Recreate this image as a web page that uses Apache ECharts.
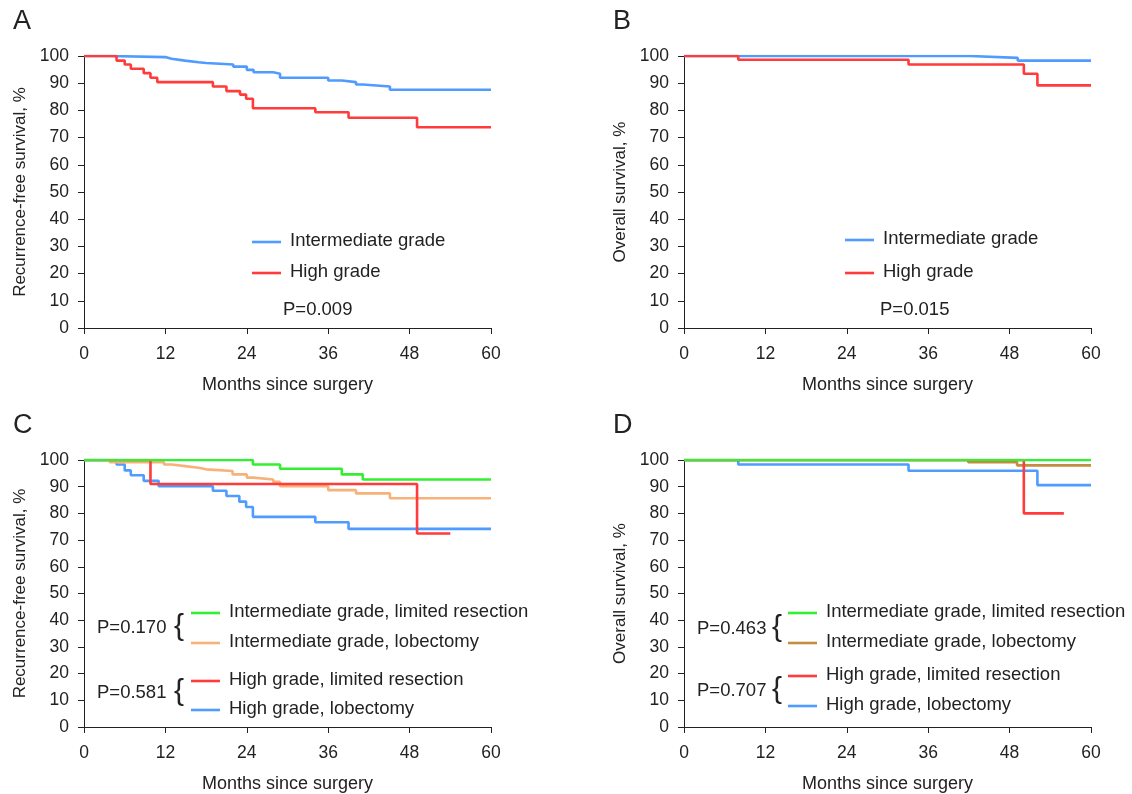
<!DOCTYPE html>
<html>
<head>
<meta charset="utf-8">
<script src="https://cdn.jsdelivr.net/npm/echarts@6/dist/echarts.min.js"></script>
<style>
  html, body { margin: 0; padding: 0; background: #fff; }
  #chart { width: 1132px; height: 794px; }
</style>
</head>
<body>
<div id="chart"></div>
<script>
// ---- data (months, survival %) ----
const xTicks = [0, 12, 24, 36, 48, 60]
const yTicks = [0, 10, 20, 30, 40, 50, 60, 70, 80, 90, 100]

// A: recurrence-free survival
const aInterTime = [0, 3.8, 12, 12.9, 14.9, 16.9, 18, 22, 24, 25, 27.9, 28.9, 36, 38, 40.1, 41.1, 45.1, 60]
const aInterSurv = [100, 99.6, 99.0, 98.3, 97.7, 97.4, 96.9, 96.1, 94.9, 94.0, 93.5, 92.0, 91.0, 90.4, 89.5, 88.8, 87.6, 87.6]
const aHighTime = [0, 4.8, 6.0, 6.9, 8.8, 9.8, 10.8, 19.0, 21.0, 23.0, 23.9, 24.9, 34.1, 39.0, 49.1, 60]
const aHighSurv = [100, 98.3, 96.9, 95.3, 93.7, 92.0, 90.4, 88.8, 87.1, 85.8, 84.3, 80.8, 79.3, 77.3, 73.8, 73.8]

// B: overall survival
const bInterTime = [0, 42.2, 49.2, 60]
const bInterSurv = [100, 99.3, 98.3, 98.3]
const bHighTime = [0, 8.0, 33.1, 50.1, 52.1, 60]
const bHighSurv = [100, 98.6, 96.9, 93.5, 89.2, 89.2]

// C: recurrence-free survival by grade and resection
const cInterLimTime = [0, 24.9, 28.9, 38.0, 41.1, 60]
const cInterLimSurv = [100, 98.3, 96.7, 94.6, 92.7, 92.7]
const cInterLobTime = [0, 3.8, 11.8, 12.9, 14.9, 16.9, 18, 21.9, 24, 25, 27.9, 28.9, 36, 40.1, 45.1, 60]
const cInterLobSurv = [100, 99.2, 98.3, 97.7, 97.1, 96.5, 95.9, 94.6, 93.4, 92.7, 91.8, 90.2, 88.7, 87.5, 85.7, 85.7]
const cHighLimTime = [0, 9.8, 49.1, 54]
const cHighLimSurv = [100, 91.0, 72.5, 72.5]
const cHighLobTime = [0, 4.8, 6, 6.9, 8.8, 11, 19, 21, 22.9, 23.9, 24.9, 34.1, 39, 60]
const cHighLobSurv = [100, 98.3, 96.1, 94.3, 92.2, 90.2, 88.5, 86.5, 84.4, 82.4, 78.7, 76.7, 74.2, 74.2]

// D: overall survival by grade and resection
const dInterLimTime = [0, 60]
const dInterLimSurv = [100, 100]
const dInterLobTime = [0, 41.9, 49.1, 60]
const dInterLobSurv = [100, 99.2, 98.0, 98.0]
const dHighLimTime = [0, 50.1, 56]
const dHighLimSurv = [100, 80.0, 80.0]
const dHighLobTime = [0, 8, 33.1, 52.1, 60]
const dHighLobSurv = [100, 98.3, 96.0, 90.6, 90.6]

const font = "'Liberation Sans', Arial, Helvetica, sans-serif"
const txt = '#222'
const C_BLUE = '#4f9bff'
const C_RED = '#ff3b3b'
const C_GREEN = '#33ee33'
const C_ORANGE = '#f6b27a'
const C_BROWN = '#c58c44'

const grids = [
  { left: 84, top: 56, width: 407, height: 272 },
  { left: 684, top: 56, width: 407, height: 272 },
  { left: 84, top: 460, width: 407, height: 271 },
  { left: 684, top: 460, width: 407, height: 271 },
]
const yNames = ['Recurrence-free survival, %', 'Overall survival, %', 'Recurrence-free survival, %', 'Overall survival, %']

const xAxes = grids.map((g, i) => ({
  gridIndex: i, type: 'value', min: 0, max: 60, interval: 12,
  name: 'Months since surgery', nameLocation: 'middle', nameGap: 48,
  nameTextStyle: { fontSize: 18, color: txt, fontFamily: font },
  axisLine: { lineStyle: { color: '#222', width: 1 } },
  axisTick: { length: 6, lineStyle: { color: '#222' } },
  axisLabel: { fontSize: 17.5, color: txt, fontFamily: font, margin: 17, formatter: v => xTicks.includes(v) ? v : '' },
  splitLine: { show: false },
}))
const yAxes = grids.map((g, i) => ({
  gridIndex: i, type: 'value', min: 0, max: 100, interval: 10,
  name: yNames[i], nameLocation: 'middle', nameGap: 55,
  nameTextStyle: { fontSize: 17, color: txt, fontFamily: font },
  axisLine: { show: true, lineStyle: { color: '#222', width: 1 } },
  axisTick: { show: true, length: 6, lineStyle: { color: '#222' } },
  axisLabel: { fontSize: 17.5, color: txt, fontFamily: font, margin: 15, formatter: v => yTicks.includes(v) ? v : '' },
  splitLine: { show: false },
}))

function km(name, times, surv, color, idx) {
  return {
    name: name, type: 'line', step: 'end', xAxisIndex: idx, yAxisIndex: idx,
    data: times.map((t, i) => [t, surv[i]]),
    symbol: 'none', lineStyle: { color: color, width: 2.6 }, itemStyle: { color: color },
    silent: true, animation: false,
  }
}

const series = [
  km('Intermediate grade', aInterTime, aInterSurv, C_BLUE, 0),
  km('High grade', aHighTime, aHighSurv, C_RED, 0),
  km('Intermediate grade', bInterTime, bInterSurv, C_BLUE, 1),
  km('High grade', bHighTime, bHighSurv, C_RED, 1),
  km('High grade, lobectomy', cHighLobTime, cHighLobSurv, C_BLUE, 2),
  km('Intermediate grade, lobectomy', cInterLobTime, cInterLobSurv, C_ORANGE, 2),
  km('High grade, limited resection', cHighLimTime, cHighLimSurv, C_RED, 2),
  km('Intermediate grade, limited resection', cInterLimTime, cInterLimSurv, C_GREEN, 2),
  km('High grade, lobectomy', dHighLobTime, dHighLobSurv, C_BLUE, 3),
  km('Intermediate grade, lobectomy', dInterLobTime, dInterLobSurv, C_BROWN, 3),
  km('High grade, limited resection', dHighLimTime, dHighLimSurv, C_RED, 3),
  km('Intermediate grade, limited resection', dInterLimTime, dInterLimSurv, C_GREEN, 3),
]

// ---- legends, p-values, panel letters ----
const graphic = []
const LEG = 18.5
function label(x, y, text, size) {
  graphic.push({ type: 'text', left: x, top: y - size * 0.58, style: { text: text, fontSize: size, fill: txt, fontFamily: font } })
}
function legLine(x, y, color, text) {
  graphic.push({ type: 'line', shape: { x1: x, y1: y, x2: x + 29, y2: y }, style: { stroke: color, lineWidth: 2.6 } })
  label(x + 38, y, text, LEG)
}
function brace(x, y) {
  graphic.push({ type: 'text', left: x, top: y - 17, style: { text: '{', fontSize: 30, fill: txt, fontFamily: font } })
}

label(13, 24, 'A', 27); label(613, 24, 'B', 27); label(13, 428, 'C', 27); label(613, 428, 'D', 27)

legLine(252, 242, C_BLUE, 'Intermediate grade')
legLine(252, 273, C_RED, 'High grade')
label(283, 311, 'P=0.009', LEG)

legLine(845, 240, C_BLUE, 'Intermediate grade')
legLine(845, 273, C_RED, 'High grade')
label(880, 311, 'P=0.015', LEG)

legLine(191, 613, C_GREEN, 'Intermediate grade, limited resection')
legLine(191, 643, C_ORANGE, 'Intermediate grade, lobectomy')
legLine(191, 681, C_RED, 'High grade, limited resection')
legLine(191, 710, C_BLUE, 'High grade, lobectomy')
label(97, 629, 'P=0.170', LEG); brace(174, 629)
label(97, 694, 'P=0.581', LEG); brace(174, 694)

legLine(788, 613, C_GREEN, 'Intermediate grade, limited resection')
legLine(788, 643, C_BROWN, 'Intermediate grade, lobectomy')
legLine(788, 676, C_RED, 'High grade, limited resection')
legLine(788, 706, C_BLUE, 'High grade, lobectomy')
label(697, 630, 'P=0.463', LEG); brace(772, 630)
label(697, 692, 'P=0.707', LEG); brace(772, 692)

const chart = echarts.init(document.getElementById('chart'))
chart.setOption({
  animation: false,
  backgroundColor: '#fff',
  grid: grids,
  xAxis: xAxes,
  yAxis: yAxes,
  series: series,
  graphic: graphic,
})
</script>
</body>
</html>
